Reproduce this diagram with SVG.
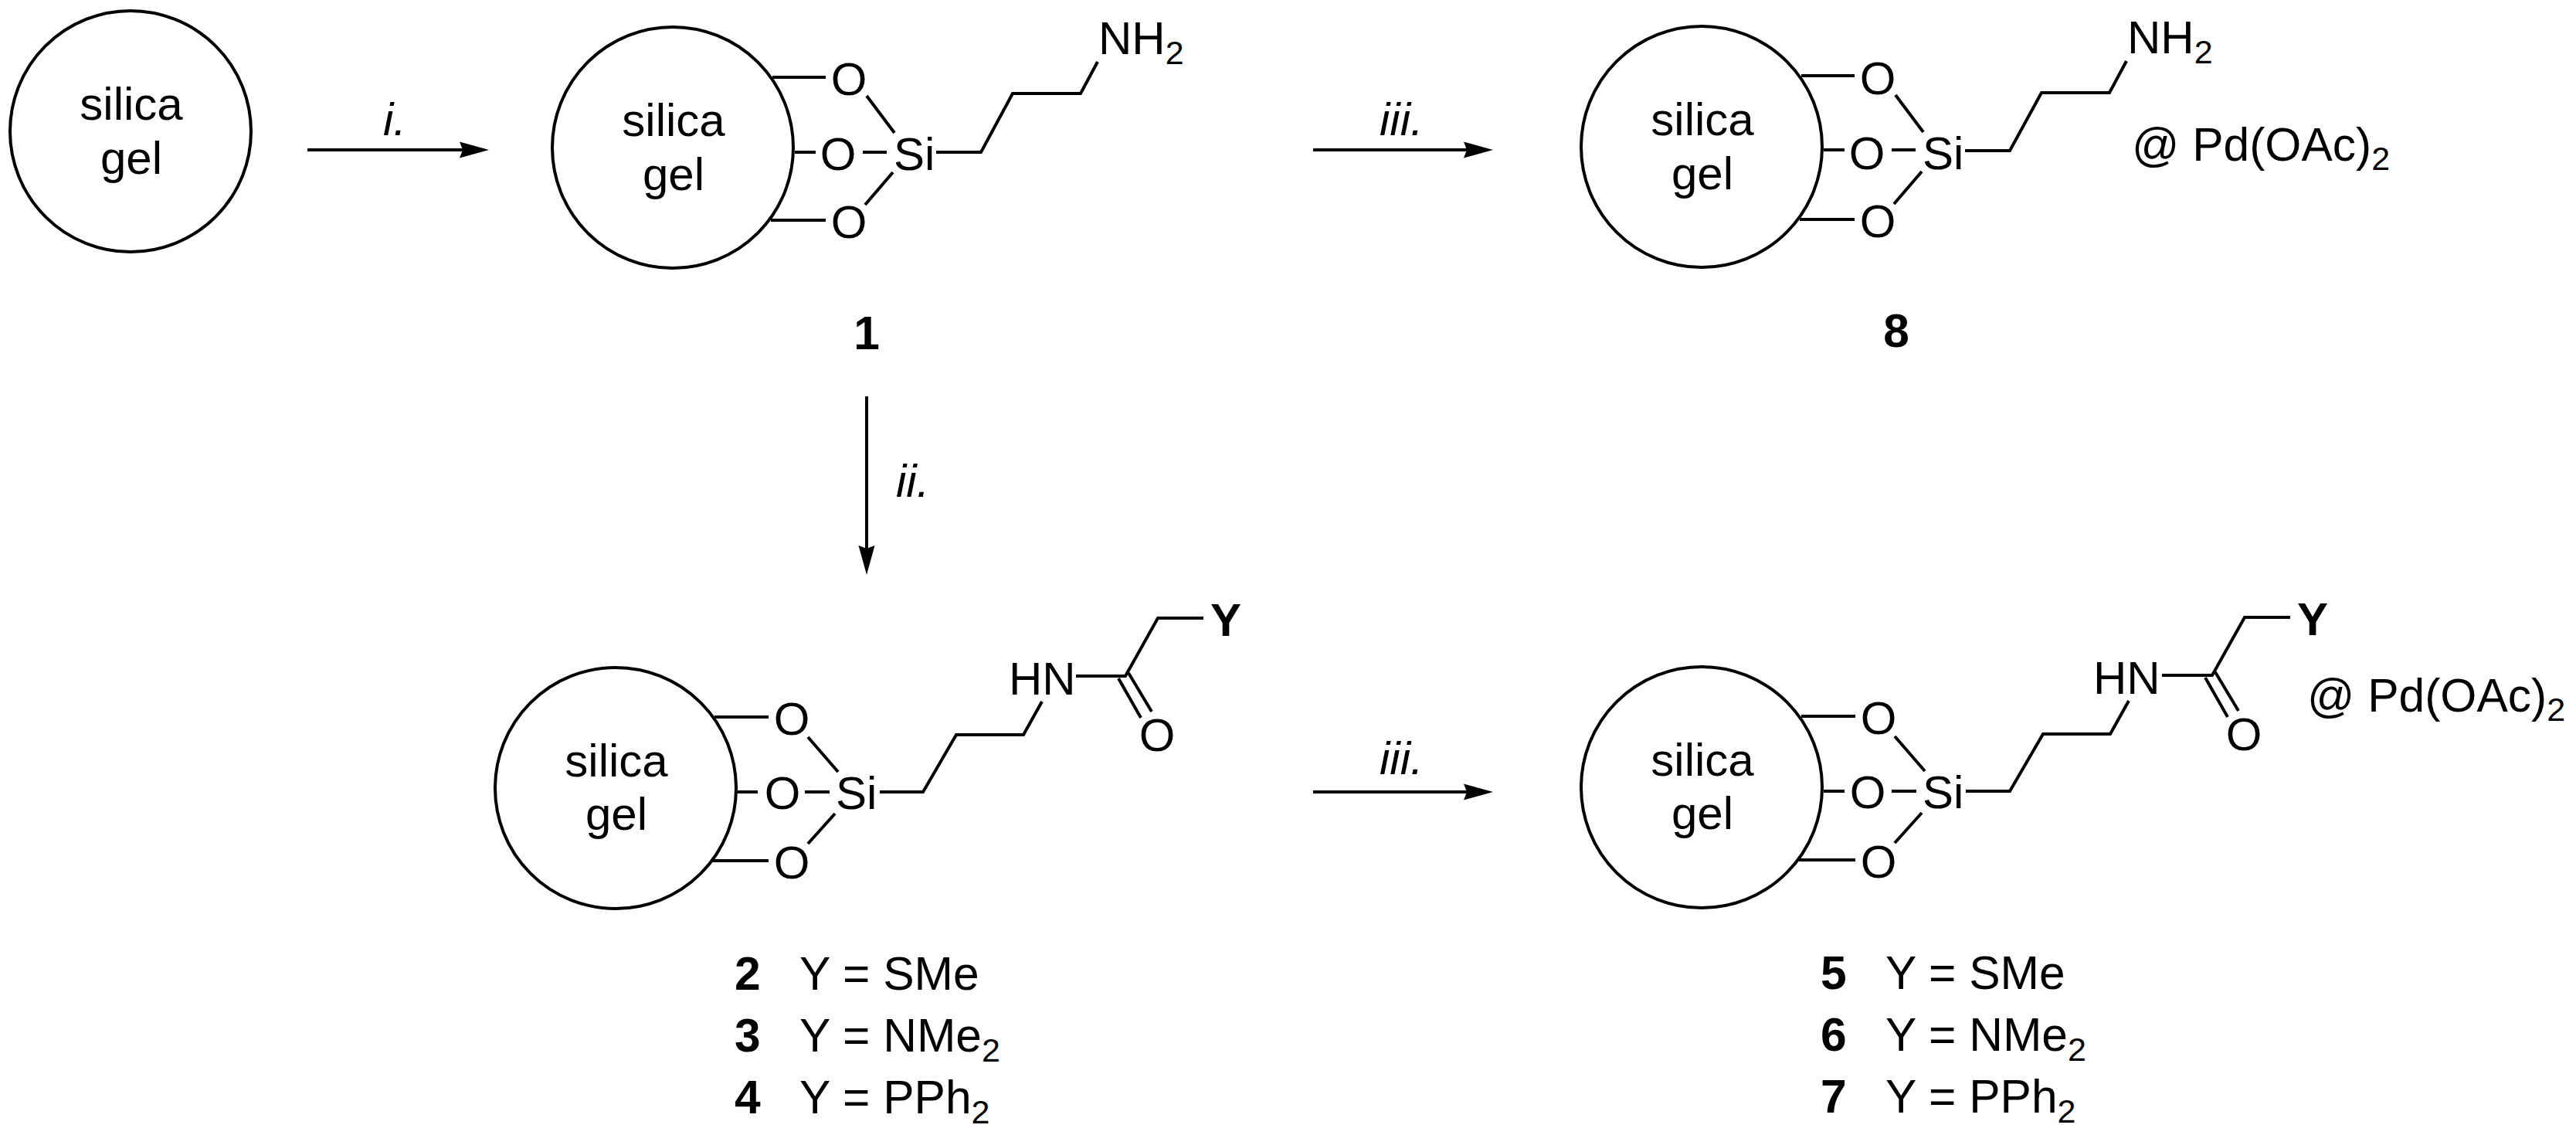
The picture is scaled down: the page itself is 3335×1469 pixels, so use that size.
<svg xmlns="http://www.w3.org/2000/svg" width="3335" height="1469" viewBox="0 0 3335 1469">
<style>
text{font-family:"Liberation Sans",Arial,sans-serif;font-size:60px;fill:#000}
.m{text-anchor:middle}
.b{font-weight:bold}
.i{font-style:italic}
.l{font-size:60.5px}
.s{font-size:43px}
circle{fill:#fff;stroke:#000;stroke-width:4}
.bond{fill:none;stroke:#000;stroke-width:4;stroke-linejoin:miter}
.arrow{fill:none;stroke:#000;stroke-width:4;marker-end:url(#head)}
</style>
<defs>
<marker id="head" markerUnits="userSpaceOnUse" markerWidth="38" markerHeight="22" viewBox="0 -11 38 22" refX="4" refY="0" orient="auto">
<path d="M0,-10.5L38,0L0,10.5L4,0Z" fill="#000"/>
</marker>
</defs>
<rect width="3335" height="1469" fill="#fff"/>
<g id="connectors">
<line class="arrow" x1="398" y1="194" x2="599" y2="194"/>
<line class="arrow" x1="1700" y1="194" x2="1899" y2="194"/>
<line class="arrow" x1="1122" y1="513" x2="1122" y2="710"/>
<line class="arrow" x1="1700" y1="1025" x2="1899" y2="1025"/>
<text class="i" x="496" y="175">i.</text>
<text class="i" x="1786" y="175">iii.</text>
<text class="i" x="1160" y="643">ii.</text>
<text class="i" x="1786" y="1002">iii.</text>
</g>
<g id="silica-gel">
<circle cx="169" cy="170" r="156"/>
<text class="m" x="170" y="155">silica</text>
<text class="m" x="170" y="225">gel</text>
</g>
<g id="compound-1">
<circle cx="871" cy="191" r="156"/>
<text class="m" x="872" y="176">silica</text>
<text class="m" x="872" y="246">gel</text>
<path class="bond" d="M1000,100H1069M1029,197H1056M1117,197H1148M998,285H1069M1122,124L1158,172M1156,223L1120,265M1212,197H1270L1311,121H1399L1421,80"/>
<text class="m" x="1099" y="123">O</text>
<text class="m" x="1085" y="220">O</text>
<text class="m" x="1099" y="308">O</text>
<text x="1157" y="220">Si</text>
<text x="1422" y="70">NH<tspan class="s" dy="13">2</tspan></text>
<text class="l b m" x="1122" y="452">1</text>
</g>
<g id="compound-8">
<circle cx="2203" cy="190" r="156"/>
<text class="m" x="2204" y="175">silica</text>
<text class="m" x="2204" y="245">gel</text>
<path class="bond" d="M2332,98H2401M2361,194H2388M2449,194H2480M2330,284H2401M2454,123L2490,171M2488,222L2452,264M2544,195H2602L2643,120H2731L2753,79"/>
<text class="m" x="2431" y="122">O</text>
<text class="m" x="2417" y="219">O</text>
<text class="m" x="2431" y="307">O</text>
<text x="2489" y="219">Si</text>
<text x="2754" y="69">NH<tspan class="s" dy="13">2</tspan></text>
<text class="l" x="2760" y="208">@ Pd(OAc)<tspan class="s" dy="12">2</tspan></text>
<text class="l b m" x="2455" y="449">8</text>
</g>
<g id="compound-2-4">
<circle cx="797" cy="1020" r="156"/>
<text class="m" x="798" y="1005">silica</text>
<text class="m" x="798" y="1074">gel</text>
<path class="bond" d="M925,928H995M954,1025H981M1042,1025H1074M922,1114H995M1046,954L1085,999M1081,1053L1046,1092M1139,1025H1195L1238,951H1325L1349,908M1393,875H1457L1499,800H1558M1448,878L1477,929M1461,871L1491,921"/>
<text class="m" x="1025" y="951">O</text>
<text class="m" x="1013" y="1047">O</text>
<text class="m" x="1025" y="1137">O</text>
<text class="m" x="1498" y="972">O</text>
<text x="1082" y="1047">Si</text>
<text x="1306" y="899">HN</text>
<text class="b" x="1567" y="823">Y</text>
<text class="l b" x="951" y="1281">2</text>
<text class="l" x="1035" y="1281">Y = SMe</text>
<text class="l b" x="951" y="1361">3</text>
<text class="l" x="1035" y="1361">Y = NMe<tspan class="s" dy="13">2</tspan></text>
<text class="l b" x="951" y="1441">4</text>
<text class="l" x="1035" y="1441">Y = PPh<tspan class="s" dy="13">2</tspan></text>
</g>
<g id="compound-5-7">
<circle cx="2203" cy="1019" r="156"/>
<text class="m" x="2204" y="1004">silica</text>
<text class="m" x="2204" y="1073">gel</text>
<path class="bond" d="M2332,927H2402M2361,1024H2388M2449,1024H2481M2329,1113H2402M2453,953L2492,998M2488,1052L2453,1091M2545,1024H2602L2645,950H2732L2756,907M2799,874H2864L2906,799H2965M2855,877L2884,928M2868,870L2898,920"/>
<text class="m" x="2432" y="950">O</text>
<text class="m" x="2418" y="1046">O</text>
<text class="m" x="2432" y="1136">O</text>
<text class="m" x="2905" y="971">O</text>
<text x="2489" y="1046">Si</text>
<text x="2710" y="898">HN</text>
<text class="b" x="2974" y="822">Y</text>
<text class="l" x="2987" y="921">@ Pd(OAc)<tspan class="s" dy="12">2</tspan></text>
<text class="l b" x="2357" y="1280">5</text>
<text class="l" x="2441" y="1280">Y = SMe</text>
<text class="l b" x="2357" y="1360">6</text>
<text class="l" x="2441" y="1360">Y = NMe<tspan class="s" dy="13">2</tspan></text>
<text class="l b" x="2357" y="1440">7</text>
<text class="l" x="2441" y="1440">Y = PPh<tspan class="s" dy="13">2</tspan></text>
</g>
</svg>
